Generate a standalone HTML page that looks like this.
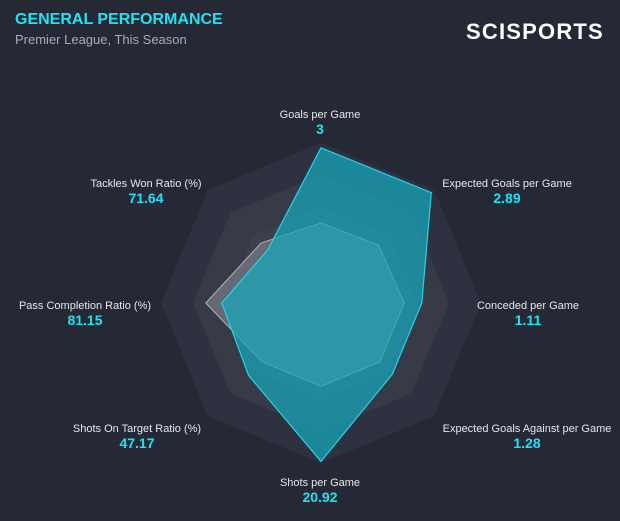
<!DOCTYPE html>
<html><head><meta charset="utf-8"><style>
body{margin:0;background:#252936;}
svg{display:block}
text{font-family:"Liberation Sans",sans-serif}
</style></head><body>
<svg width="620" height="521" viewBox="0 0 620 521">
<rect width="620" height="521" fill="#252936"/>
<text x="15" y="24" fill="#1de3f2" font-size="16" font-weight="bold">GENERAL PERFORMANCE</text>
<text x="15" y="44" fill="#a9abb2" font-size="13">Premier League, This Season</text>
<text x="466" y="39" fill="#ffffff" font-size="22" font-weight="bold" letter-spacing="1.2">SCISPORTS</text>
<g id="grid"></g>
<g id="series"></g>
<g id="labels"></g>
</svg>
<script>
const categories=["Goals per Game","Expected Goals per Game","Conceded per Game","Expected Goals Against per Game","Shots per Game","Shots On Target Ratio (%)","Pass Completion Ratio (%)","Tackles Won Ratio (%)"];
const valueLabels=["3","2.89","1.11","1.28","20.92","47.17","81.15","71.64"];
const teamValues=[0.97,0.975,0.63,0.63,0.99,0.64,0.62,0.47];
const avgValues=[0.5,0.51,0.52,0.52,0.52,0.52,0.72,0.53];
const rings=[1,0.8,0.6,0.4,0.2];
const CX=321,CY=303,R=160,NS="http://www.w3.org/2000/svg";
function pt(i,v){const a=-Math.PI/2+i*Math.PI/4;return [CX+Math.cos(a)*R*v,CY+Math.sin(a)*R*v];}
function poly(vals){return vals.map((v,i)=>pt(i,v).join(",")).join(" ");}
const grid=document.getElementById("grid");
const ringFill=["#2d3140","#373a47","#3d3f4c","#41434f","#444652"];
rings.forEach((r,k)=>{const p=document.createElementNS(NS,"polygon");
p.setAttribute("points",poly(categories.map(()=>r)));p.setAttribute("fill",ringFill[k]);


grid.appendChild(p);});
const s=document.getElementById("series");
const a=document.createElementNS(NS,"polygon");
a.setAttribute("points",poly(avgValues));a.setAttribute("fill","#8d8f98");a.setAttribute("fill-opacity","0.55");a.setAttribute("stroke","#b0b2b8");a.setAttribute("stroke-width","1");


s.appendChild(a);
const t=document.createElementNS(NS,"polygon");
t.setAttribute("points",poly(teamValues));t.setAttribute("fill","#16a8bd");t.setAttribute("fill-opacity","0.72");t.setAttribute("stroke","#27d3e6");t.setAttribute("stroke-width","1.2");


s.appendChild(t);
const L=document.getElementById("labels");
const pos=[[320,118],[507,187],[528,309],[527,432],[320,486],[137,432],[85,309],[146,187]];
categories.forEach((c,i)=>{
 const g=document.createElementNS(NS,"g");
 
 
 const a1=document.createElementNS(NS,"text");a1.setAttribute("x",pos[i][0]);a1.setAttribute("y",pos[i][1]);a1.setAttribute("text-anchor","middle");a1.setAttribute("fill","#e6e7ea");a1.setAttribute("font-size","11");a1.textContent=c;
 const a2=document.createElementNS(NS,"text");a2.setAttribute("x",pos[i][0]);a2.setAttribute("y",pos[i][1]+16);a2.setAttribute("text-anchor","middle");a2.setAttribute("fill","#1de3f2");a2.setAttribute("font-size","14");a2.setAttribute("font-weight","bold");a2.textContent=valueLabels[i];
 
 
 g.appendChild(a1);g.appendChild(a2);L.appendChild(g);});
</script>
</body></html>
